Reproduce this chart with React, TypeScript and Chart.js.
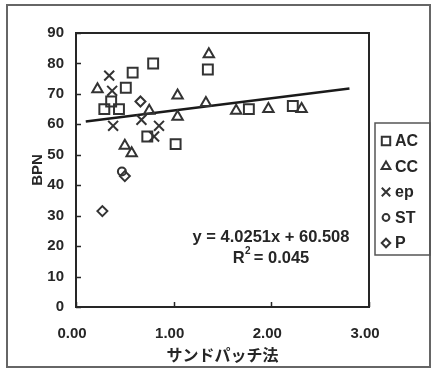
import React, { useEffect, useRef } from 'react';
import { Chart, registerables } from 'chart.js';
import * as helpers from 'chart.js/helpers';

Chart.register(...registerables);

// ---- data ----
const acX = [0.29, 0.36, 0.44, 0.51, 0.58, 0.79, 0.73, 1.02, 1.35, 1.77, 2.22];
const acY = [65, 67.5, 65, 72, 77, 80, 56, 53.5, 78, 65, 66];

const ccX = [0.22, 0.5, 0.57, 0.75, 1.04, 1.04, 1.33, 1.36, 1.64, 1.97, 2.31];
const ccY = [71.5, 53, 50.5, 64.5, 69.5, 62.5, 67, 83, 64.5, 65, 65];

const epX = [0.34, 0.37, 0.38, 0.67, 0.85, 0.8];
const epY = [76, 71, 59.5, 61.5, 59.5, 56];

const stX = [0.47];
const stY = [44.5];

const pX = [0.5, 0.27, 0.66];
const pY = [43, 31.5, 67.5];

const seriesNames = ['AC', 'CC', 'ep', 'ST', 'P'];

const trendSlope = 4.0251;
const trendIntercept = 60.508;
const trendR2 = 0.045;
const trendRange = [0.1, 2.8];

const xTickValues = [0, 1, 2, 3];
const yTickValues = [0, 10, 20, 30, 40, 50, 60, 70, 80, 90];

const xTitle = 'サンドパッチ法';
const yTitle = 'BPN';

const FONT = '"Liberation Sans", Arial, sans-serif';
const INK = '#262626';

const pts = (xs: number[], ys: number[]) => xs.map((x, i) => ({ x, y: ys[i] }));

const frameAndTicks = {
  id: 'frameAndTicks',
  beforeDraw(chart: any) {
    const { ctx } = chart;
    ctx.save();
    ctx.fillStyle = '#fff';
    ctx.fillRect(0, 0, chart.width, chart.height);
    ctx.strokeStyle = '#666';
    ctx.lineWidth = 2;
    ctx.strokeRect(7, 5, 423, 362);
    ctx.restore();
  },
  afterDraw(chart: any) {
    const { ctx, chartArea: a, scales } = chart;
    const xs = scales.x;
    const ys = scales.y;
    ctx.save();
    ctx.strokeStyle = INK;
    ctx.lineWidth = 1.5;
    ctx.beginPath();
    yTickValues.forEach((v) => {
      const py = Math.round(ys.getPixelForValue(v)) + 0.5;
      ctx.moveTo(a.left, py);
      ctx.lineTo(a.left + 5, py);
    });
    xTickValues.forEach((v) => {
      const px = Math.round(xs.getPixelForValue(v)) + 0.5;
      ctx.moveTo(px, a.bottom);
      ctx.lineTo(px, a.bottom - 5);
    });
    ctx.stroke();
    ctx.lineWidth = 2;
    ctx.strokeRect(a.left, a.top, a.right - a.left, a.bottom - a.top);

    // regression text
    ctx.fillStyle = INK;
    const big = `bold 16.5px ${FONT}`;
    const small = `bold 10px ${FONT}`;
    ctx.font = big;
    ctx.textAlign = 'center';
    ctx.textBaseline = 'middle';
    const cx = a.left + 195;
    ctx.fillText(`y = ${trendSlope}x + ${trendIntercept}`, cx, a.top + 204);
    const rText = `R  = ${trendR2}`;
    ctx.fillText(rText, cx, a.top + 225);
    const w = ctx.measureText(rText).width;
    const rw = ctx.measureText('R').width;
    ctx.font = small;
    ctx.textAlign = 'left';
    ctx.fillText('2', cx - w / 2 + rw + 0.5, a.top + 218);

    // legend
    const lx = a.right + 6;
    const ly = a.top + 90;
    ctx.strokeStyle = '#555';
    ctx.lineWidth = 1.5;
    ctx.strokeRect(lx, ly, 55, 132);
    chart.data.datasets.slice(0, 5).forEach((ds: any, i: number) => {
      const iy = ly + 18 + i * 25.5;
      ctx.strokeStyle = ds.borderColor;
      ctx.fillStyle = 'rgba(0,0,0,0)';
      ctx.lineWidth = 2;
      helpers.drawPoint(ctx, { pointStyle: ds.pointStyle, radius: ds.pointRadius * 0.85, borderWidth: 2, rotation: 0 }, lx + 11, iy);
      ctx.fillStyle = INK;
      ctx.font = `bold 16px ${FONT}`;
      ctx.textAlign = 'left';
      ctx.textBaseline = 'middle';
      ctx.fillText(ds.label, lx + 20, iy + 1);
    });
    ctx.restore();
  },
};

export default function App() {
  const ref = useRef<HTMLCanvasElement | null>(null);
  useEffect(() => {
    if (!ref.current) return;
    const mk = (label: string, data: any[], pointStyle: string, radius: number) => ({
      type: 'scatter' as const,
      label,
      data,
      pointStyle,
      pointRadius: radius,
      pointBorderWidth: 2,
      borderColor: '#333333',
      backgroundColor: 'rgba(0,0,0,0)',
      showLine: false,
    });
    const chart = new Chart(ref.current, {
      type: 'scatter',
      data: {
        datasets: [
          mk(seriesNames[0], pts(acX, acY), 'rect', 7),
          mk(seriesNames[1], pts(ccX, ccY), 'triangle', 6),
          mk(seriesNames[2], pts(epX, epY), 'crossRot', 7),
          mk(seriesNames[3], pts(stX, stY), 'circle', 4),
          mk(seriesNames[4], pts(pX, pY), 'rectRot', 5),
          {
            type: 'line' as const,
            label: 'trend',
            data: trendRange.map((x) => ({ x, y: trendSlope * x + trendIntercept })),
            borderColor: '#1a1a1a',
            borderWidth: 2.5,
            pointRadius: 0,
            fill: false,
          },
        ] as any,
      },
      options: {
        animation: false,
        responsive: false,
        layout: { padding: { left: 0, top: 33, right: 65, bottom: 0 } },
        plugins: { legend: { display: false }, tooltip: { enabled: false } },
        scales: {
          x: {
            type: 'linear',
            min: 0,
            max: 3,
            afterBuildTicks: (s: any) => { s.ticks = xTickValues.map((v) => ({ value: v })); },
            afterFit: (s: any) => { s.height = 64; },
            grid: { display: false, drawTicks: false },
            border: { display: false },
            ticks: {
              padding: 18,
              labelOffset: -4,
              color: INK,
              font: { family: FONT, size: 15, weight: 'bold' },
              callback: (v: any) => Number(v).toFixed(2),
            },
            title: {
              display: true,
              text: xTitle,
              color: INK,
              font: { family: '"Noto Sans CJK JP", sans-serif', size: 16, weight: 'bold' },
              padding: { top: 0, bottom: 6 },
            },
          },
          y: {
            type: 'linear',
            min: 0,
            max: 90,
            afterBuildTicks: (s: any) => { s.ticks = yTickValues.map((v) => ({ value: v })); },
            afterFit: (s: any) => { s.width = 76; },
            grid: { display: false, drawTicks: false },
            border: { display: false },
            ticks: {
              padding: 12,
              color: INK,
              font: { family: FONT, size: 15, weight: 'bold' },
            },
            title: {
              display: true,
              text: yTitle,
              color: INK,
              font: { family: FONT, size: 15, weight: 'bold' },
              padding: { top: 29, bottom: 0 },
            },
          },
        },
      },
      plugins: [frameAndTicks],
    } as any);
    return () => chart.destroy();
  }, []);
  return (
    <div style={{ position: 'fixed', left: 0, top: 0, width: 434, height: 371 }}>
      <canvas ref={ref} width={434} height={371} style={{ width: 434, height: 371, display: 'block' }} />
    </div>
  );
}
